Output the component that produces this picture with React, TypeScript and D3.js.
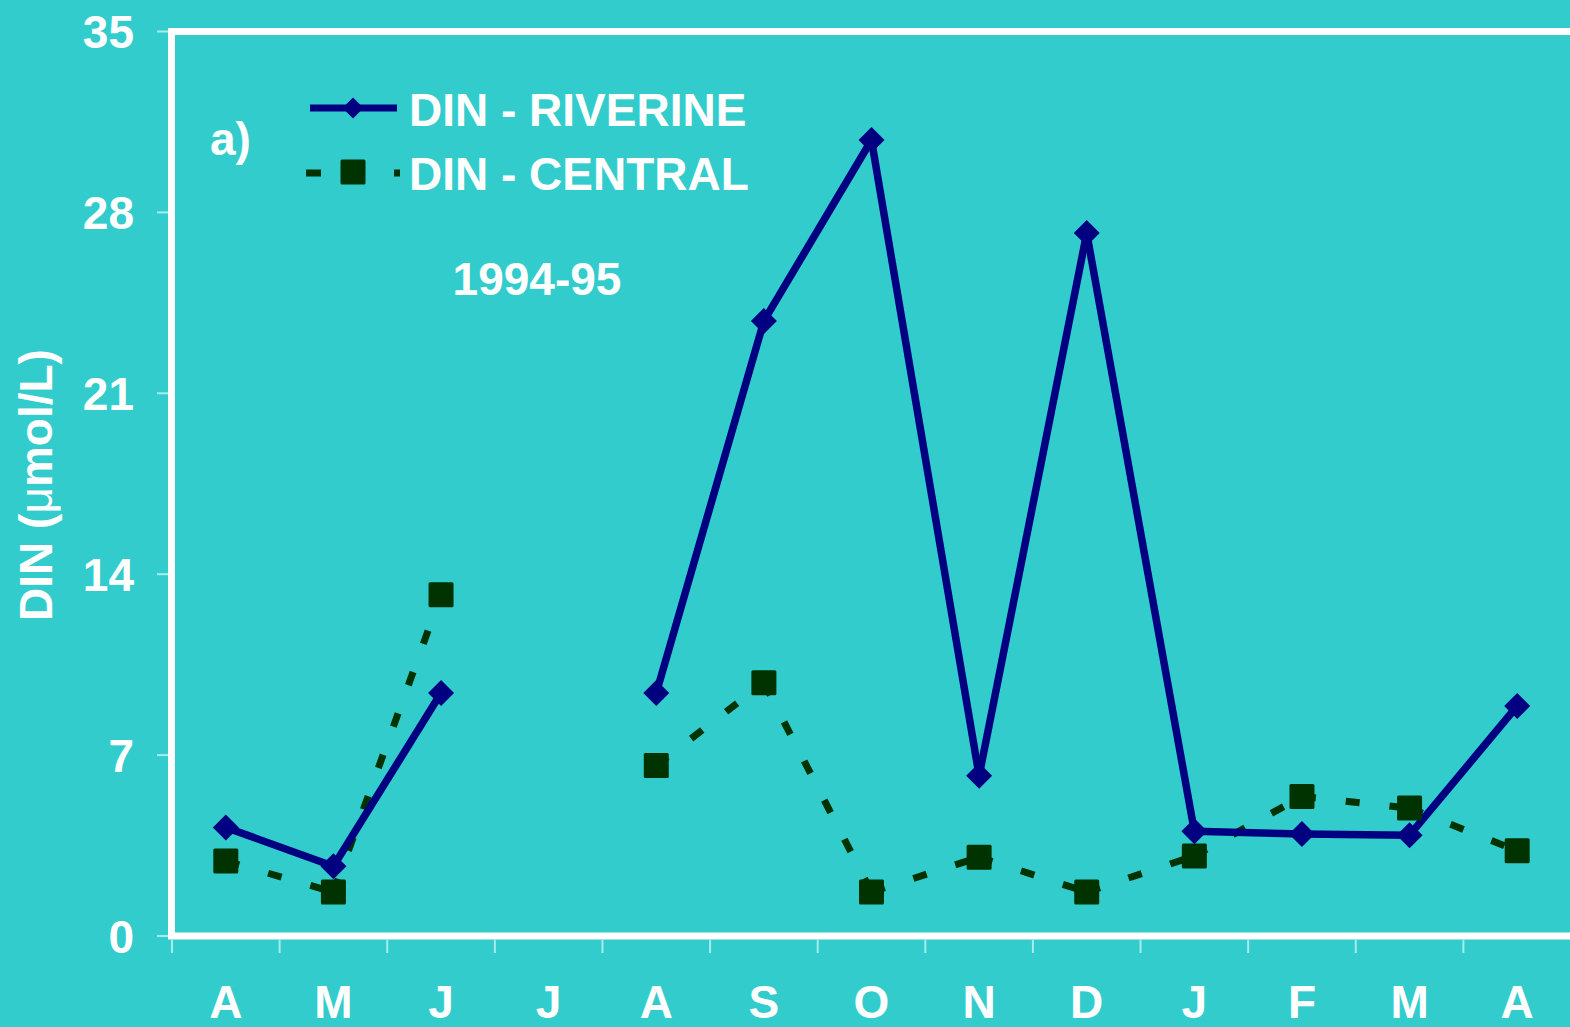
import * as d3 from 'd3';

const MONTHS = ['A', 'M', 'J', 'J', 'A', 'S', 'O', 'N', 'D', 'J', 'F', 'M', 'A'];
const Y_TICKS = [0, 7, 14, 21, 28, 35];

// null = no sample that month
const RIVERINE = [4.2, 2.7, 9.4, null, 9.4, 23.8, 30.8, 6.2, 27.2, 4.05, 3.95, 3.9, 8.9];
const CENTRAL = [2.9, 1.7, 13.2, null, 6.6, 9.8, 1.7, 3.05, 1.7, 3.1, 5.4, 4.95, 3.3];

const W = 1570;
const H = 1027;
const BG = '#33CCCC';
const NAVY = '#000080';
const GREEN = '#003300';
const TICK = '#a6ecec';
const FONT = '"Liberation Sans", Arial, sans-serif';
const FS = 46;

const x = d3.scaleBand<number>().domain(d3.range(MONTHS.length)).range([172, 1571]).padding(0);
const y = d3.scaleLinear().domain([0, 35]).range([936, 31.5]);
const cx = (i: number) => (x(i) as number) + x.bandwidth() / 2;

// pairs of consecutive non-null points, drawn one by one so the dash pattern restarts
function segments(vals: (number | null)[]) {
  const segs: [number, number][][] = [];
  for (let i = 0; i < vals.length - 1; i++) {
    if (vals[i] == null || vals[i + 1] == null) continue;
    segs.push([[cx(i), y(vals[i] as number)], [cx(i + 1), y(vals[i + 1] as number)]]);
  }
  return segs;
}

const line = d3.line();

function Diamond({ px, py, r }: { px: number; py: number; r: number }) {
  return <path d={`M${px},${py - r}L${px + r},${py}L${px},${py + r}L${px - r},${py}Z`} fill={NAVY} />;
}

function Square({ px, py, s }: { px: number; py: number; s: number }) {
  return <rect x={px - s / 2} y={py - s / 2} width={s} height={s} rx={1.5} fill={GREEN} />;
}

export default function App() {
  const [x0, x1] = x.range();
  return (
    <svg width={W} height={H} style={{ position: 'absolute', left: 0, top: 0 }} fontFamily={FONT}>
      <rect width={W} height={H} fill={BG} />

      {/* y ticks + labels */}
      {Y_TICKS.map(t => (
        <g key={t}>
          <line x1={157} x2={170} y1={y(t)} y2={y(t)} stroke={TICK} strokeWidth={2} />
          <text x={134} y={y(t)} dy="0.36em" textAnchor="end" fontSize={FS} fontWeight="bold" fill="white">{t}</text>
        </g>
      ))}

      {/* x ticks at band edges + labels */}
      {d3.range(MONTHS.length + 1).map(i => {
        const xx = i < MONTHS.length ? (x(i) as number) : x1;
        return <line key={i} x1={xx} x2={xx} y1={940} y2={953} stroke={TICK} strokeWidth={2} />;
      })}
      {MONTHS.map((m, i) => (
        <text key={i} x={cx(i)} y={1018} textAnchor="middle" fontSize={FS} fontWeight="bold" fill="white">{m}</text>
      ))}

      {/* plot frame */}
      <rect x={x0 - 0.5} y={y(35)} width={x1 - x0 + 40} height={y(0) - y(35)} fill="none" stroke="white" strokeWidth={7} />

      <text transform={`translate(52,485) rotate(-90)`} textAnchor="middle" fontSize={FS} fontWeight="bold" fill="white">
        DIN (<tspan fontWeight="normal">μ</tspan>mol/L)
      </text>

      {/* central: dashed */}
      {segments(CENTRAL).map((s, i) => (
        <path key={i} d={line(s) || ''} fill="none" stroke={GREEN} strokeWidth={7} strokeDasharray="14 30" />
      ))}
      {/* riverine: solid */}
      {segments(RIVERINE).map((s, i) => (
        <path key={i} d={line(s) || ''} fill="none" stroke={NAVY} strokeWidth={7.5} strokeLinejoin="round" />
      ))}
      {CENTRAL.map((v, i) => v == null ? null : <Square key={i} px={cx(i)} py={y(v)} s={25} />)}
      {RIVERINE.map((v, i) => v == null ? null : <Diamond key={i} px={cx(i)} py={y(v)} r={13} />)}

      {/* legend */}
      <line x1={310} x2={397} y1={108} y2={108} stroke={NAVY} strokeWidth={7} />
      <Diamond px={353} py={108} r={10.5} />
      <text x={409} y={126} fontSize={FS} fontWeight="bold" fill="white">DIN - RIVERINE</text>
      <line x1={306} x2={400} y1={173} y2={173} stroke={GREEN} strokeWidth={7} strokeDasharray="15 29" />
      <Square px={353} py={172} s={25} />
      <text x={409} y={190} fontSize={FS} fontWeight="bold" fill="white">DIN - CENTRAL</text>

      <text x={210} y={155} fontSize={FS} fontWeight="bold" fill="white">a)</text>
      <text x={537} y={295} textAnchor="middle" fontSize={FS} fontWeight="bold" fill="white">1994-95</text>
    </svg>
  );
}
